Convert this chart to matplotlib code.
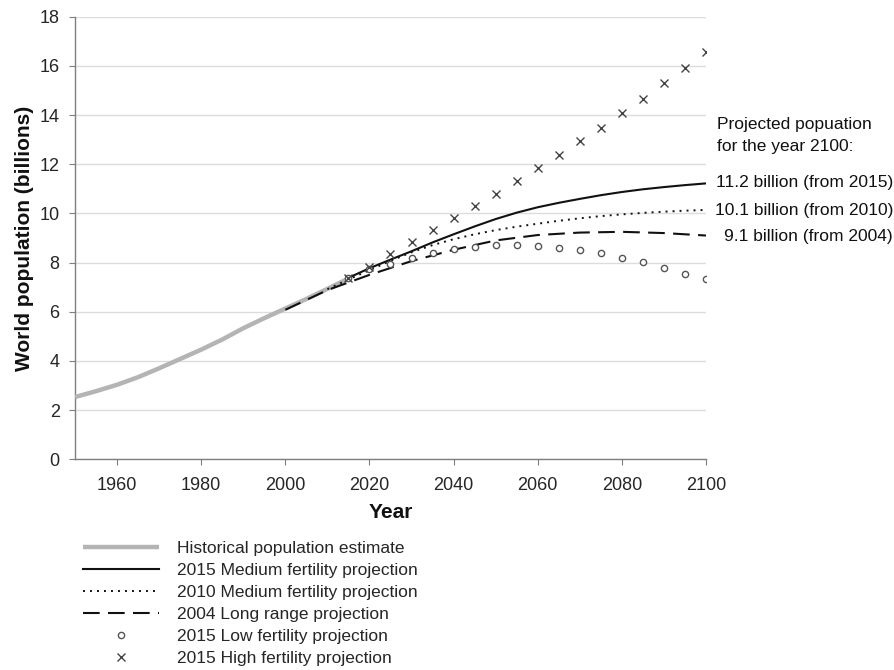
import numpy as np
import matplotlib
matplotlib.use("Agg")
import matplotlib.pyplot as plt
from matplotlib import transforms

plt.rcParams['font.family'] = ['Liberation Sans', 'DejaVu Sans']

# historical estimate
hist_years = [1950, 1955, 1960, 1965, 1970, 1975, 1980, 1985, 1990, 1995, 2000, 2005, 2010, 2015]
hist_pop = [2.53, 2.77, 3.03, 3.34, 3.70, 4.08, 4.46, 4.87, 5.33, 5.74, 6.13, 6.52, 6.93, 7.35]

# 2015 projections (5-year steps)
proj_years = [2015, 2020, 2025, 2030, 2035, 2040, 2045, 2050, 2055, 2060,
              2065, 2070, 2075, 2080, 2085, 2090, 2095, 2100]
med_2015 = [7.38, 7.77, 8.12, 8.46, 8.82, 9.15, 9.47, 9.77, 10.03, 10.25,
            10.43, 10.59, 10.74, 10.87, 10.98, 11.07, 11.15, 11.22]
low_2015 = [7.36, 7.72, 7.96, 8.19, 8.38, 8.54, 8.65, 8.71, 8.71, 8.66,
            8.60, 8.50, 8.37, 8.20, 8.01, 7.79, 7.55, 7.32]
high_2015 = [7.37, 7.81, 8.35, 8.82, 9.31, 9.80, 10.29, 10.80, 11.32, 11.86,
             12.39, 12.93, 13.49, 14.08, 14.67, 15.29, 15.93, 16.56]

# 2010 medium projection
med2010_years = [2010, 2015, 2020, 2025, 2030, 2035, 2040, 2045, 2050, 2055,
                 2060, 2065, 2070, 2075, 2080, 2085, 2090, 2095, 2100]
med_2010 = [6.92, 7.31, 7.69, 8.07, 8.42, 8.71, 8.95, 9.15, 9.32, 9.46,
            9.58, 9.70, 9.80, 9.89, 9.96, 10.02, 10.07, 10.11, 10.14]

# 2004 long range projection
lr2004_years = [2000, 2010, 2020, 2030, 2040, 2050, 2060, 2070, 2080, 2090, 2100]
lr_2004 = [6.08, 6.88, 7.50, 8.06, 8.52, 8.90, 9.12, 9.22, 9.25, 9.20, 9.10]

end_labels = ["11.2 billion (from 2015)", "10.1 billion (from 2010)", "9.1 billion (from 2004)"]
end_label_y = [11.27, 10.13, 9.05]

fig = plt.figure(figsize=(8.95, 6.7), dpi=100)
ax = fig.add_axes([0.0838, 0.3145, 0.705, 0.6606])

ax.plot(hist_years, hist_pop, color='#b4b4b4', lw=3.2, solid_capstyle='butt',
        label='Historical population estimate', zorder=3)
ax.plot(proj_years, med_2015, color='#111111', lw=1.5,
        label='2015 Medium fertility projection', zorder=4)
ax.plot(med2010_years, med_2010, color='#111111', lw=1.4, linestyle=(0, (1, 2.6)),
        label='2010 Medium fertility projection', zorder=4)
ax.plot(lr2004_years, lr_2004, color='#111111', lw=1.5, linestyle=(0, (8, 4)),
        label='2004 Long range projection', zorder=4)
ax.plot(proj_years, low_2015, linestyle='none', marker='o', ms=4.5, mfc='white',
        mec='#555555', mew=1.0, label='2015 Low fertility projection', zorder=5)
ax.plot(proj_years, high_2015, linestyle='none', marker='x', ms=5.5,
        color='#444444', mew=1.0, label='2015 High fertility projection', zorder=5)

ax.set_xlim(1950, 2100)
ax.set_ylim(0, 18)
ax.set_xticks(np.arange(1960, 2101, 20))
ax.set_yticks(np.arange(0, 19, 2))
ax.grid(axis='y', color='#dcdcdc', lw=1.0)
ax.set_axisbelow(True)

for s in ['top', 'right']:
    ax.spines[s].set_visible(False)
for s in ['left', 'bottom']:
    ax.spines[s].set_color('#7f7f7f')
    ax.spines[s].set_linewidth(1.0)

ax.tick_params(axis='both', colors='#7f7f7f', labelcolor='#262626', labelsize=13, length=4)
ax.tick_params(axis='x', pad=9)
ax.tick_params(axis='y', pad=7)

ax.set_xlabel('Year', fontsize=15, fontweight='bold', color='#111111', labelpad=6)
ax.set_ylabel('World population (billions)', fontsize=15, fontweight='bold',
              color='#111111', labelpad=4)

# labels at the right of the chart
tr = transforms.blended_transform_factory(fig.transFigure, ax.transData)
ax.text(717 / 895, 13.6, 'Projected popuation', transform=tr, ha='left', va='center',
        fontsize=12.5, color='#111111', clip_on=False)
ax.text(717 / 895, 12.72, 'for the year 2100:', transform=tr, ha='left', va='center',
        fontsize=12.5, color='#111111', clip_on=False)
for lab, yy in zip(end_labels, end_label_y):
    ax.text(893 / 895, yy, lab, transform=tr, ha='right', va='center',
            fontsize=12.5, color='#111111', clip_on=False)

leg = fig.legend(loc='upper left', bbox_to_anchor=(83 / 895, 1 - 541 / 670),
                 frameon=False, fontsize=12.5, handlelength=4.4, handletextpad=1.0,
                 labelspacing=0.39, borderpad=0, borderaxespad=0, numpoints=1)
for t in leg.get_texts():
    t.set_color('#262626')

fig.savefig('out.png', dpi=100)
